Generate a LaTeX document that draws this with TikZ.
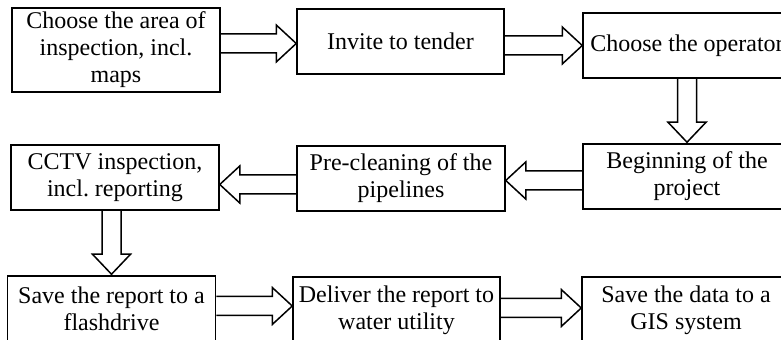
\documentclass[tikz,border=0pt]{standalone}
\usepackage{fontspec}
\setmainfont{Liberation Serif}
\usetikzlibrary{calc}
\newcommand\rarr[3]{%
  \coordinate (tip) at ($(#2.west)+(0,#3)$);
  \draw[blk] ($(#1.east |- tip)+(0,-9.5)$) -- ($(tip)+(-20,-9.5)$) -- ($(tip)+(-20,-18.5)$) -- (tip)
    -- ($(tip)+(-20,18.5)$) -- ($(tip)+(-20,9.5)$) -- ($(#1.east |- tip)+(0,9.5)$);}
\newcommand\larr[3]{%
  \coordinate (tip) at ($(#2.east)+(0,#3)$);
  \draw[blk] ($(#1.west |- tip)+(0,-9.5)$) -- ($(tip)+(20,-9.5)$) -- ($(tip)+(20,-18.5)$) -- (tip)
    -- ($(tip)+(20,18.5)$) -- ($(tip)+(20,9.5)$) -- ($(#1.west |- tip)+(0,9.5)$);}
\newcommand\darr[3]{%
  \coordinate (tip) at ($(#2.north)+(#3,-1)$);
  \draw[blk] ($(tip |- #1.south)+(-9.5,0)$) -- ($(tip)+(-9.5,-20)$) -- ($(tip)+(-19,-20)$) -- (tip)
    -- ($(tip)+(19,-20)$) -- ($(tip)+(9.5,-20)$) -- ($(tip |- #1.south)+(9.5,0)$);}
\begin{document}
\begin{tikzpicture}[x=0.5pt,y=-0.5pt,
  box/.style={draw,line width=0.75pt,minimum width=104pt,minimum height=32.5pt,
    inner sep=0pt,align=center,font=\fontsize{12}{13.5}\selectfont},
  blk/.style={draw,line width=0.75pt,line join=miter}]
\useasboundingbox (0,0) rectangle (781,340);
\node[box,minimum height=42pt] (n1) at (116,50) {Choose the area of\\inspection, incl.\\maps};
\node[box,minimum width=103.5pt] (n2) at (400.5,41.5) {Invite to tender};
\node[box] (n3) at (687,45.5) {Choose the operator};
\node[box] (n4) at (687,176.5) {Beginning of the\\project};
\node[box] (n5) at (401,178.5) {Pre-cleaning of the\\pipelines};
\node[box] (n6) at (115,177.5) {CCTV inspection,\\incl.\ reporting};
\node[box,minimum height=33pt] (n7) at (111.5,309) {Save the report to a\\flashdrive};
\node[box,minimum width=103.5pt,minimum height=33pt] (n8) at (396.5,310) {Deliver the report to\\water utility};
\node[box,minimum height=33pt] (n9) at (686,310) {Save the data to a\\GIS system};
\rarr{n1}{n2}{2}
\rarr{n2}{n3}{0}
\darr{n3}{n4}{0}
\larr{n4}{n5}{2}
\larr{n5}{n6}{7}
\darr{n6}{n7}{0}
\rarr{n7}{n8}{-4}
\rarr{n8}{n9}{-2}
\end{tikzpicture}
\end{document}
